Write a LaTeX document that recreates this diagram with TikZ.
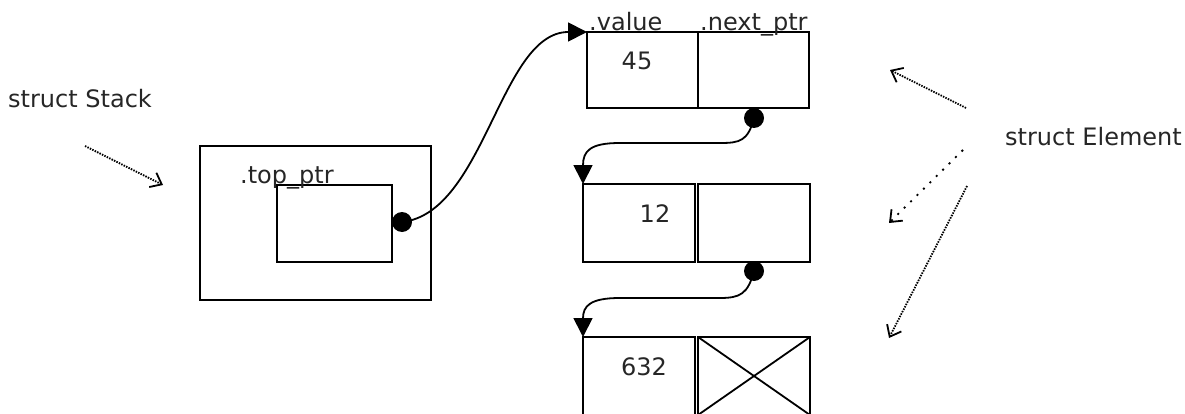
\documentclass[tikz,border=0pt]{standalone}
\usepackage{fontspec}
\setmainfont{DejaVu Sans}
\usetikzlibrary{arrows.meta}
\tikzset{
  cell/.style={draw=black, line width=2pt, inner sep=0pt, outer sep=0pt, rectangle},
  txt/.style={text=black!85, inner sep=0pt, font=\fontsize{24}{28}\selectfont},
  ptrdot/.style={circle, fill=black, draw=none, minimum size=20pt, inner sep=0pt},
  link/.style={line width=1.8pt, -{Triangle[length=19pt,width=19pt]}},
  hint/.style={line width=1.8pt, dash pattern=on 1.5pt off 1.2pt, -{Straight Barb[length=10pt,width=16pt,line width=1.8pt]}},
  hintsparse/.style={line width=1.8pt, dash pattern=on 2pt off 7pt, -{Straight Barb[length=10pt,width=16pt,line width=1.8pt]}}
}
\begin{document}
\begin{tikzpicture}[x=1pt,y=1pt]
\useasboundingbox (0,0) rectangle (1185,413);
% stack
\node[cell, minimum width=231pt, minimum height=154pt] (stack) at (315.5,190) {};
\node[cell, minimum width=115pt, minimum height=77pt] (top) at (334.5,189.5) {};
\node[txt, anchor=base west] (toplbl) at (240,230) {.top\_ptr};
\node[ptrdot] (dot1) at (402,191) {};
% element 1
\node[cell, minimum width=111pt, minimum height=76pt] (e1l) at (642.5,343) {};
\node[cell, minimum width=111pt, minimum height=76pt] (e1r) at (753.5,343) {};
\node[txt] (v1) at (637,352) {45};
\node[txt, anchor=base west] (vallbl) at (589,382) {.value};
\node[txt, anchor=base west] (nextlbl) at (700,382) {.next\_ptr};
\node[ptrdot] (dot2) at (754,295) {};
% element 2
\node[cell, minimum width=112pt, minimum height=78pt] (e2l) at (639,190) {};
\node[cell, minimum width=112pt, minimum height=78pt] (e2r) at (754,190) {};
\node[txt] (v2) at (655,199) {12};
\node[ptrdot] (dot3) at (754,142) {};
% element 3
\node[cell, minimum width=112pt, minimum height=78pt] (e3l) at (639,37) {};
\node[cell, minimum width=112pt, minimum height=78pt] (e3r) at (754,37) {};
\node[txt] (v3) at (644,46) {632};
\draw[line width=1.8pt] (e3r.north west) -- (e3r.south east);
\draw[line width=1.8pt] (e3r.south west) -- (e3r.north east);
% links
\draw[link] (dot1.center) .. controls (485,200) and (500,381) .. (e1l.north west);
\draw[link] (dot2.center) .. controls (748,272) and (740,270) .. (720,270) -- (620,270) .. controls (590,270) and (583,262) .. (e2l.north west);
\draw[link] (dot3.center) .. controls (748,119) and (740,115) .. (720,115) -- (620,115) .. controls (590,115) and (583,107) .. (e3l.north west);
% labels
\node[txt, anchor=base west] (stacklbl) at (8,305) {struct Stack};
\node[txt, anchor=base west] (elemlbl) at (1005,268) {struct Element};
\coordinate (sa) at (85,267);
\coordinate (sb) at (163,228);
\draw[hint] (sa) -- (sb);
\coordinate (ea1) at (966,305);
\coordinate (eb1) at (890,343);
\coordinate (ea2) at (963,263);
\coordinate (eb2) at (889,190);
\coordinate (ea3) at (967,227);
\coordinate (eb3) at (889,75);
\draw[hint] (ea1) -- (eb1);
\draw[hintsparse] (ea2) -- (eb2);
\draw[hint] (ea3) -- (eb3);
\end{tikzpicture}
\end{document}
